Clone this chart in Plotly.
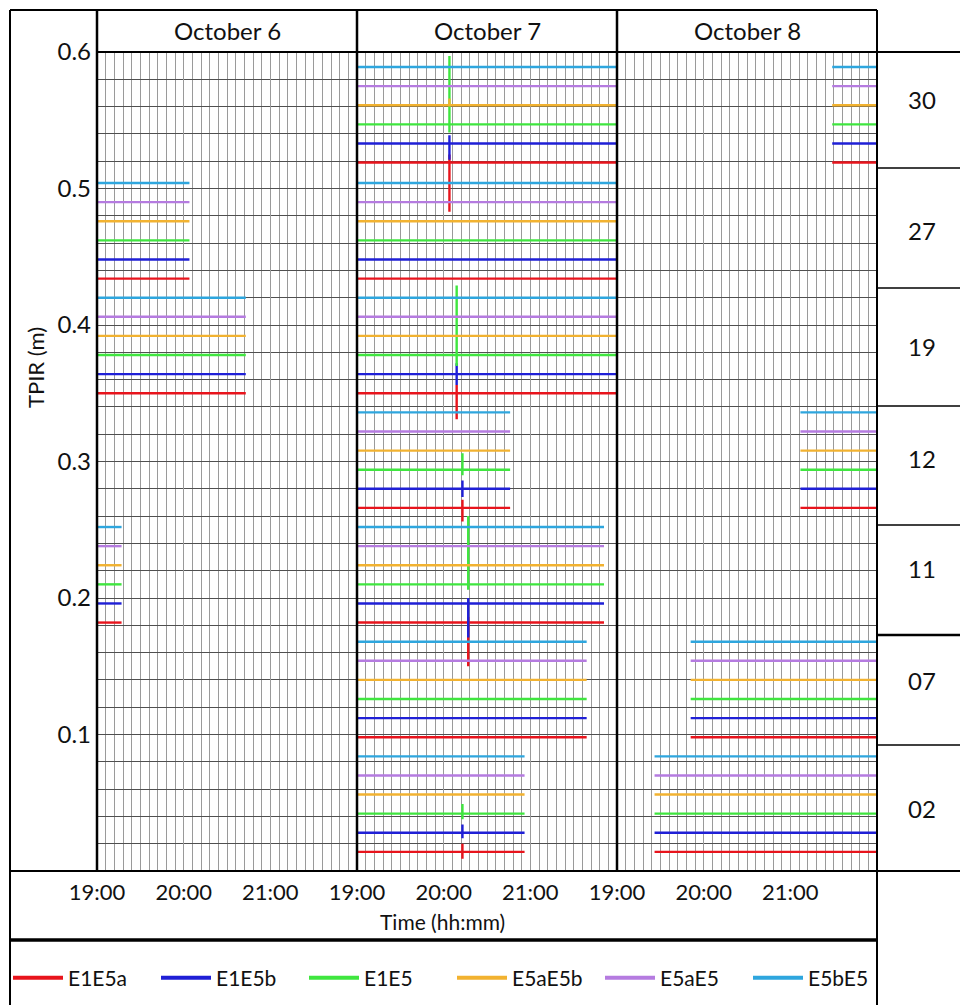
import plotly.graph_objects as go

# ---------------- data ----------------
SERIES = ["E1E5a", "E1E5b", "E1E5", "E5aE5b", "E5aE5", "E5bE5"]
COLORS = ["#e8141c", "#1f1fd6", "#3fe63f", "#f2b230", "#b57be0", "#2ea6de"]
DAYS = ["October 6", "October 7", "October 8"]
GROUPS = ["30", "27", "19", "12", "11", "07", "02"]
HOUR_TICKS = [19, 20, 21]
HOUR_LABELS = ["19:00", "20:00", "21:00"]
Y_TICKS = [0.1, 0.2, 0.3, 0.4, 0.5, 0.6]

# baseline offset (m) of each series inside each group (order as SERIES)
LEVEL_30 = [0.519, 0.533, 0.547, 0.561, 0.575, 0.589]
LEVEL_27 = [0.434, 0.448, 0.462, 0.476, 0.490, 0.504]
LEVEL_19 = [0.350, 0.364, 0.378, 0.392, 0.406, 0.420]
LEVEL_12 = [0.266, 0.280, 0.294, 0.308, 0.322, 0.336]
LEVEL_11 = [0.182, 0.196, 0.210, 0.224, 0.238, 0.252]
LEVEL_07 = [0.098, 0.112, 0.126, 0.140, 0.154, 0.168]
LEVEL_02 = [0.014, 0.028, 0.042, 0.056, 0.070, 0.084]
LEVELS = {"30": LEVEL_30, "27": LEVEL_27, "19": LEVEL_19, "12": LEVEL_12,
          "11": LEVEL_11, "07": LEVEL_07, "02": LEVEL_02}

# observation spans (start, end) per group for each day
SPANS_OCT6 = {"27": ("19:00", "20:04"), "19": ("19:00", "20:43"),
              "11": ("19:00", "19:17")}
SPANS_OCT7 = {"30": ("19:00", "22:00"), "27": ("19:00", "22:00"),
              "19": ("19:00", "22:00"), "12": ("19:00", "20:46"),
              "11": ("19:00", "21:51"), "07": ("19:00", "21:39"),
              "02": ("19:00", "20:56")}
SPANS_OCT8 = {"30": ("21:29", "22:00"), "12": ("21:07", "22:00"),
              "07": ("19:51", "22:00"), "02": ("19:26", "22:00")}
SPANS = [SPANS_OCT6, SPANS_OCT7, SPANS_OCT8]

# disturbance spikes on October 7: time and (up, down) excursion per series
SPIKE_TIME_OCT7 = {"30": "20:04", "19": "20:09", "12": "20:13",
                   "11": "20:17", "02": "20:13"}
SPIKE_30 = [(0.006, 0.036), (0.006, 0.012), (0.050, 0.006), (0.005, 0.0), (0.0, 0.0), (0.0, 0.0)]
SPIKE_19 = [(0.006, 0.019), (0.008, 0.008), (0.051, 0.008), (0.0, 0.0), (0.0, 0.0), (0.0, 0.0)]
SPIKE_12 = [(0.006, 0.010), (0.006, 0.006), (0.012, 0.004), (0.0, 0.0), (0.0, 0.0), (0.0, 0.0)]
SPIKE_11 = [(0.004, 0.032), (0.004, 0.025), (0.050, 0.004), (0.0, 0.0), (0.0, 0.0), (0.0, 0.0)]
SPIKE_02 = [(0.006, 0.005), (0.006, 0.004), (0.007, 0.004), (0.0, 0.0), (0.0, 0.0), (0.0, 0.0)]
SPIKES_OCT7 = {"30": SPIKE_30, "19": SPIKE_19, "12": SPIKE_12,
               "11": SPIKE_11, "02": SPIKE_02}

# ---------------- layout helpers ----------------
# the page body has an 8px margin, so the figure is 8px smaller and all
# page-pixel positions are shifted by 8px
OFF = 8
W, H = 968 - OFF, 1005 - OFF
FONT = "Lato"
INK = "#111111"


def px(x):
    return (x - OFF) / W


def py(y):
    return 1 - (y - OFF) / H


def hours(s):
    h, m = s.split(":")
    return int(h) + int(m) / 60.0


PANEL_X = [(97, 357), (357, 617), (617, 877)]
PLOT_TOP, PLOT_BOTTOM = 52, 871

fig = go.Figure()

for d in range(3):
    xa = "x" if d == 0 else "x%d" % (d + 1)
    for s, name in enumerate(SERIES):
        xs, ys = [], []
        for g in GROUPS:
            if g not in SPANS[d]:
                continue
            t0, t1 = SPANS[d][g]
            lvl = LEVELS[g][s]
            xs.append(hours(t0)); ys.append(lvl)
            if d == 1 and g in SPIKES_OCT7:
                up, down = SPIKES_OCT7[g][s]
                ts = hours(SPIKE_TIME_OCT7[g])
                if up or down:
                    xs += [ts, ts, ts, ts]
                    ys += [lvl, lvl + up, lvl - down, lvl]
            xs.append(hours(t1)); ys.append(lvl)
            xs.append(None); ys.append(None)
        fig.add_trace(go.Scatter(x=xs, y=ys, mode="lines", xaxis=xa, yaxis="y",
                                 line=dict(color=COLORS[s], width=2.4),
                                 showlegend=False, hoverinfo="skip"))

# legend-only traces
for s, name in enumerate(SERIES):
    fig.add_trace(go.Scatter(x=[None], y=[None], mode="lines", name=name,
                             line=dict(color=COLORS[s], width=4),
                             xaxis="x", yaxis="y"))

xaxis_common = dict(range=[19, 22], tickmode="array", tickvals=HOUR_TICKS,
                    ticktext=HOUR_LABELS, showgrid=True, gridcolor="#9a9a9a",
                    gridwidth=1, zeroline=False, showline=False, ticks="",
                    ticklabelstandoff=6,
                    tickfont=dict(family=FONT, size=22, color=INK),
                    minor=dict(dtick=0.1, tick0=19, showgrid=True,
                               gridcolor="#9a9a9a", gridwidth=1),
                    anchor="y", fixedrange=True)

layout = dict(
    width=W, height=H, autosize=False,
    margin=dict(l=0, r=0, t=0, b=0, pad=0, autoexpand=False),
    paper_bgcolor="white", plot_bgcolor="white",
    font=dict(family=FONT, color=INK),
    yaxis=dict(range=[0, 0.6], domain=[py(PLOT_BOTTOM), py(PLOT_TOP)],
               tickmode="array", tickvals=Y_TICKS,
               ticktext=["%.1f" % v for v in Y_TICKS],
               showgrid=True, gridcolor="#505050", gridwidth=1,
               minor=dict(dtick=0.02, tick0=0, showgrid=True,
                          gridcolor="#505050", gridwidth=1),
               zeroline=False, showline=False, ticks="",
               ticklabelstandoff=5,
               tickfont=dict(family=FONT, size=24, color=INK),
               anchor="x", fixedrange=True),
    showlegend=True,
    legend=dict(orientation="h", x=0, y=py(978), xanchor="left",
                yanchor="middle", font=dict(family=FONT, size=21, color=INK),
                itemwidth=50, entrywidth=83, entrywidthmode="pixels",
                bgcolor="rgba(0,0,0,0)", tracegroupgap=0),
)
for d in range(3):
    key = "xaxis" if d == 0 else "xaxis%d" % (d + 1)
    ax = dict(xaxis_common)
    ax["domain"] = [px(PANEL_X[d][0]), px(PANEL_X[d][1])]
    layout[key] = ax

fig.update_layout(**layout)

# ---------------- table frame ----------------
lines = [
    (10, 10, 877, 10, 2),
    (10, 10, 10, 1005, 2),
    (877, 10, 877, 1005, 2),
    (97, 10, 97, PLOT_BOTTOM, 2.5),
    (357, 10, 357, PLOT_BOTTOM, 2.5),
    (617, 10, 617, PLOT_BOTTOM, 2.5),
    (97, PLOT_TOP, 968, PLOT_TOP, 2),
    (10, PLOT_BOTTOM, 968, PLOT_BOTTOM, 2),
    (10, 940, 877, 940, 3.5),
]
CELL_EDGES_PX = [168, 288, 406, 525, 635, 745]
for yv in CELL_EDGES_PX:
    lines.append((877, yv, 968, yv, 2.5 if yv == 635 else 1.5))

for x0, y0, x1, y1, w in lines:
    fig.add_shape(type="line", xref="paper", yref="paper",
                  x0=px(x0), y0=py(y0), x1=px(x1), y1=py(y1),
                  line=dict(color="black", width=w), layer="above")


# ---------------- texts ----------------
def label(x, y, text, size, angle=0):
    fig.add_annotation(x=px(x), y=py(y), xref="paper", yref="paper",
                       xanchor="center", yanchor="middle", text=text,
                       textangle=angle, showarrow=False,
                       font=dict(family=FONT, size=size, color=INK))


for d, day in enumerate(DAYS):
    label((PANEL_X[d][0] + PANEL_X[d][1]) / 2, 31, day, 24)

GROUP_LABEL_PX = [99, 231, 346, 459, 568, 680, 808]
for g, yl in zip(GROUPS, GROUP_LABEL_PX):
    label(922, yl, g, 24)

label(35, 368, "TPIR (m)", 22, angle=-90)
label(442, 921, "Time (hh:mm)", 21)

fig.write_html("out.html")
